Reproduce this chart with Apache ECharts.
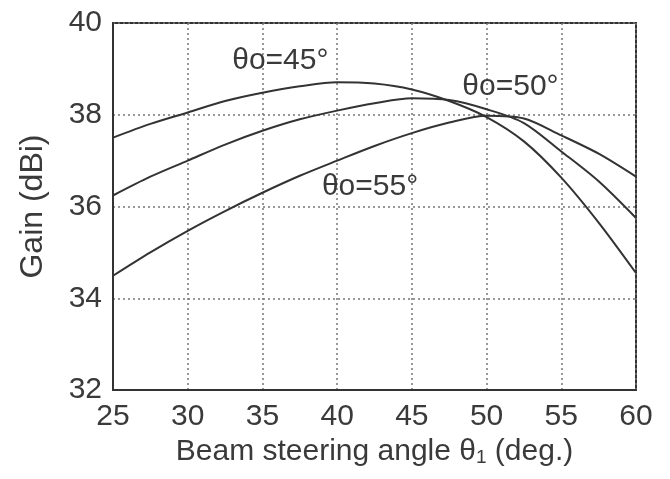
<!DOCTYPE html>
<html>
<head>
<meta charset="utf-8">
<script src="https://cdn.jsdelivr.net/npm/echarts@6/dist/echarts.min.js"></script>
<style>
  html, body { margin: 0; padding: 0; background: #fff; }
  #chart { width: 670px; height: 479px; }
</style>
</head>
<body>
<div id="chart"></div>
<script>
// beam steering angle (deg.), read every 2.5 deg
const angles = [25, 27.5, 30, 32.5, 35, 37.5, 40, 42.5, 45, 47.5, 50, 52.5, 55, 57.5, 60]

// gain in dBi for each design angle theta_o
const gain45 = [37.50, 37.80, 38.05, 38.30, 38.48, 38.62, 38.71, 38.68, 38.55, 38.30, 37.95, 37.42, 36.63, 35.65, 34.55]
const gain50 = [36.24, 36.65, 37.00, 37.35, 37.65, 37.90, 38.09, 38.25, 38.36, 38.32, 38.12, 37.82, 37.20, 36.55, 35.75]
const gain55 = [34.49, 35.00, 35.47, 35.90, 36.30, 36.67, 37.00, 37.32, 37.60, 37.83, 37.98, 37.92, 37.55, 37.15, 36.65]

const curveNames = ['θo=45°', 'θo=50°', 'θo=55°']
// where each curve label sits, in axis units
const labelSpots = [[36.2, 39.18], [51.6, 38.61], [42.2, 36.43]]

const ink = '#3a3a3a'
const font = 'Liberation Sans, Arial, sans-serif'

const chart = echarts.init(document.getElementById('chart'))

function curve(name, vals, spot) {
  return {
    name,
    type: 'line',
    data: angles.map((a, i) => [a, vals[i]]),
    smooth: 0.3,
    showSymbol: false,
    lineStyle: { color: '#333', width: 2 },
    animation: false,
    markPoint: {
      symbol: 'circle',
      symbolSize: 0,
      silent: true,
      data: [{ coord: spot, value: name }],
      label: {
        show: true,
        position: 'inside',
        formatter: name,
        color: ink,
        fontSize: 30,
        fontFamily: font,
      },
    },
  }
}

chart.setOption({
  backgroundColor: '#fff',
  grid: {
    left: 113, right: 34, top: 23, bottom: 89,
    show: true,
    borderColor: '#333',
    borderWidth: 2,
  },
  xAxis: {
    type: 'value',
    min: 25, max: 60, interval: 5,
    name: 'Beam steering angle θ{sub|1} (deg.)',
    nameLocation: 'middle',
    nameGap: 45,
    nameTextStyle: {
      color: ink, fontSize: 30, fontFamily: font,
      rich: { sub: { fontSize: 19, verticalAlign: 'bottom', padding: [12, 0, 0, 0], color: ink, fontFamily: font } },
    },
    axisLine: { show: true, lineStyle: { color: '#333', width: 2 } },
    axisTick: { show: false },
    axisLabel: { color: ink, fontSize: 30, fontFamily: font, margin: 12 },
    splitLine: { show: true, lineStyle: { color: '#777', width: 1.5, type: [2, 3] } },
  },
  yAxis: {
    type: 'value',
    min: 32, max: 40, interval: 2,
    name: 'Gain (dBi)',
    nameLocation: 'middle',
    nameGap: 64,
    nameTextStyle: { color: ink, fontSize: 32, fontFamily: font },
    axisLine: { show: true, lineStyle: { color: '#333', width: 2 } },
    axisTick: { show: false },
    axisLabel: { color: ink, fontSize: 30, fontFamily: font, margin: 11 },
    splitLine: { show: true, lineStyle: { color: '#777', width: 1.5, type: [2, 3] } },
  },
  series: [
    curve(curveNames[0], gain45, labelSpots[0]),
    curve(curveNames[1], gain50, labelSpots[1]),
    curve(curveNames[2], gain55, labelSpots[2]),
  ],
})
</script>
</body>
</html>
